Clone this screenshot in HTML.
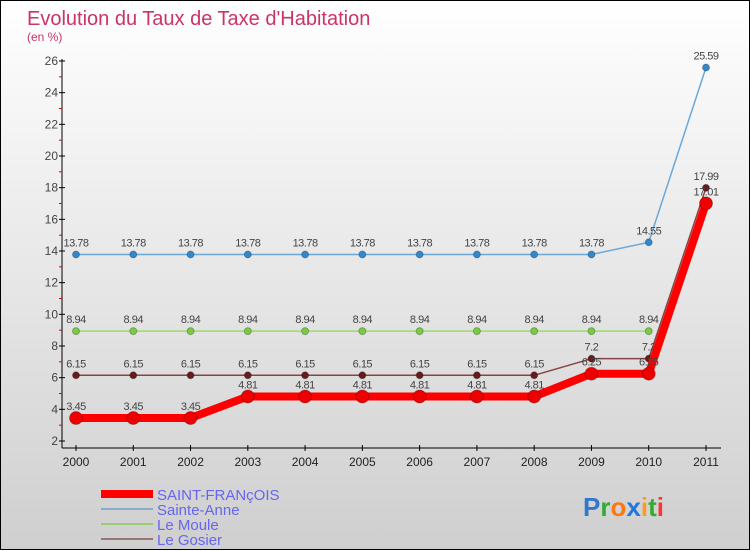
<!DOCTYPE html>
<html><head><meta charset="utf-8"><style>
body{margin:0;width:750px;height:550px;overflow:hidden;font-family:"Liberation Sans",sans-serif}
#wrap{position:relative;width:748px;height:548px;border:1px solid #000;background:linear-gradient(#fff,#cfcfcf)}
svg{position:absolute;left:0;top:0}
</style></head><body>
<div id="wrap">
<svg id="chart" width="750" height="550">
<text x="26" y="24" font-size="20" fill="#cc3366">Evolution du Taux de Taxe d'Habitation</text>
<text x="26" y="40" font-size="12" fill="#cc3366">(en %)</text>
<g id="axes"></g><g id="series"></g>
<g>
<rect x="100" y="489" width="52" height="8" fill="#f00"/>
<text x="156" y="499" font-size="15" fill="#6666ee">SAINT-FRANçOIS</text>
<rect x="100" y="507" width="52" height="2" fill="#88aacc"/>
<text x="156" y="514" font-size="15" fill="#6666ee">Sainte-Anne</text>
<rect x="100" y="522" width="52" height="2" fill="#99cc77"/>
<text x="156" y="529" font-size="15" fill="#6666ee">Le Moule</text>
<rect x="100" y="537" width="52" height="2" fill="#997777"/>
<text x="156" y="544" font-size="15" fill="#6666ee">Le Gosier</text>
</g>
<text x="582" y="515" font-size="26" font-weight="bold"><tspan fill="#3377cc">P</tspan><tspan fill="#33aa33">r</tspan><tspan fill="#ff7711">o</tspan><tspan fill="#2277dd">x</tspan><tspan fill="#ff9922">i</tspan><tspan fill="#33aa33">t</tspan><tspan fill="#ff3333">i</tspan></text>
</svg></div>
<script>
const years=["2000","2001","2002","2003","2004","2005","2006","2007","2008","2009","2010","2011"];
const yTicks=[2,4,6,8,10,12,14,16,18,20,22,24,26];
const saintFrancois=[3.45,3.45,3.45,4.81,4.81,4.81,4.81,4.81,4.81,6.25,6.25,17.01];
const sainteAnne=[13.78,13.78,13.78,13.78,13.78,13.78,13.78,13.78,13.78,13.78,14.55,25.59];
const leMoule=[8.94,8.94,8.94,8.94,8.94,8.94,8.94,8.94,8.94,8.94,8.94,null];
const leGosier=[6.15,6.15,6.15,6.15,6.15,6.15,6.15,6.15,6.15,7.2,7.2,17.99];
const NS="http://www.w3.org/2000/svg";
const X=i=>75+i*(630/11);
const Y=v=>60+(26-v)*(380/24);
function mk(t,a,p){const e=document.createElementNS(NS,t);for(const k in a)e.setAttribute(k,a[k]);p.appendChild(e);return e;}
const ax=document.getElementById('axes');
let l=mk('line',{x1:61,y1:58,x2:61,y2:447,stroke:'#000'},ax);


l=mk('line',{x1:61,y1:447,x2:720,y2:447,stroke:'#000'},ax);


yTicks.forEach(v=>{
 mk('line',{x1:58,x2:64,y1:Y(v),y2:Y(v),stroke:'#000'},ax);
 if(v<26)mk('line',{x1:58,x2:61,y1:Y(v+1),y2:Y(v+1),stroke:'#d00'},ax);
 const t=mk('text',{x:57,y:Y(v)+4,'font-size':12,'text-anchor':'end',fill:'#444'},ax);
 t.textContent=v;
 
 
});
years.forEach((y,i)=>{
 mk('line',{x1:X(i),x2:X(i),y1:444,y2:450,stroke:'#000'},ax);
 const t=mk('text',{x:X(i),y:465,'font-size':12,'text-anchor':'middle',fill:'#222'},ax);
 t.textContent=y;
 
 
});
const sg=document.getElementById('series');
function draw(data,name,color,w,r,fill){
 const g=mk('g',{},sg);
 
 
 let d='';data.forEach((v,i)=>{if(v!=null)d+=(d?'L':'M')+X(i)+','+Y(v);});
 mk('path',{d:d,fill:'none',stroke:color,'stroke-width':w,'stroke-linejoin':'round'},g);
 data.forEach((v,i)=>{if(v==null)return;
  const c=mk('circle',{cx:X(i),cy:Y(v),r:r,fill:fill,stroke:'rgba(0,0,0,0.25)'},g);
  
  
  const t=mk('text',{x:X(i),y:Y(v)-8,'font-size':11,'text-anchor':'middle',fill:'#444','letter-spacing':'-0.5'},g);
  t.textContent=String(v);
  
  
 });
}
draw(sainteAnne,'sainte-anne','#6aa8d8',1.5,3.5,'#3388cc');
draw(leMoule,'le-moule','#99dd66',1.5,3.5,'#77cc44');
draw(leGosier,'le-gosier','#884444',1.5,3.5,'#661c1c');
draw(saintFrancois,'saint-francois','#ff0000',8,6.5,'#ee0000');
</script>
</body></html>
